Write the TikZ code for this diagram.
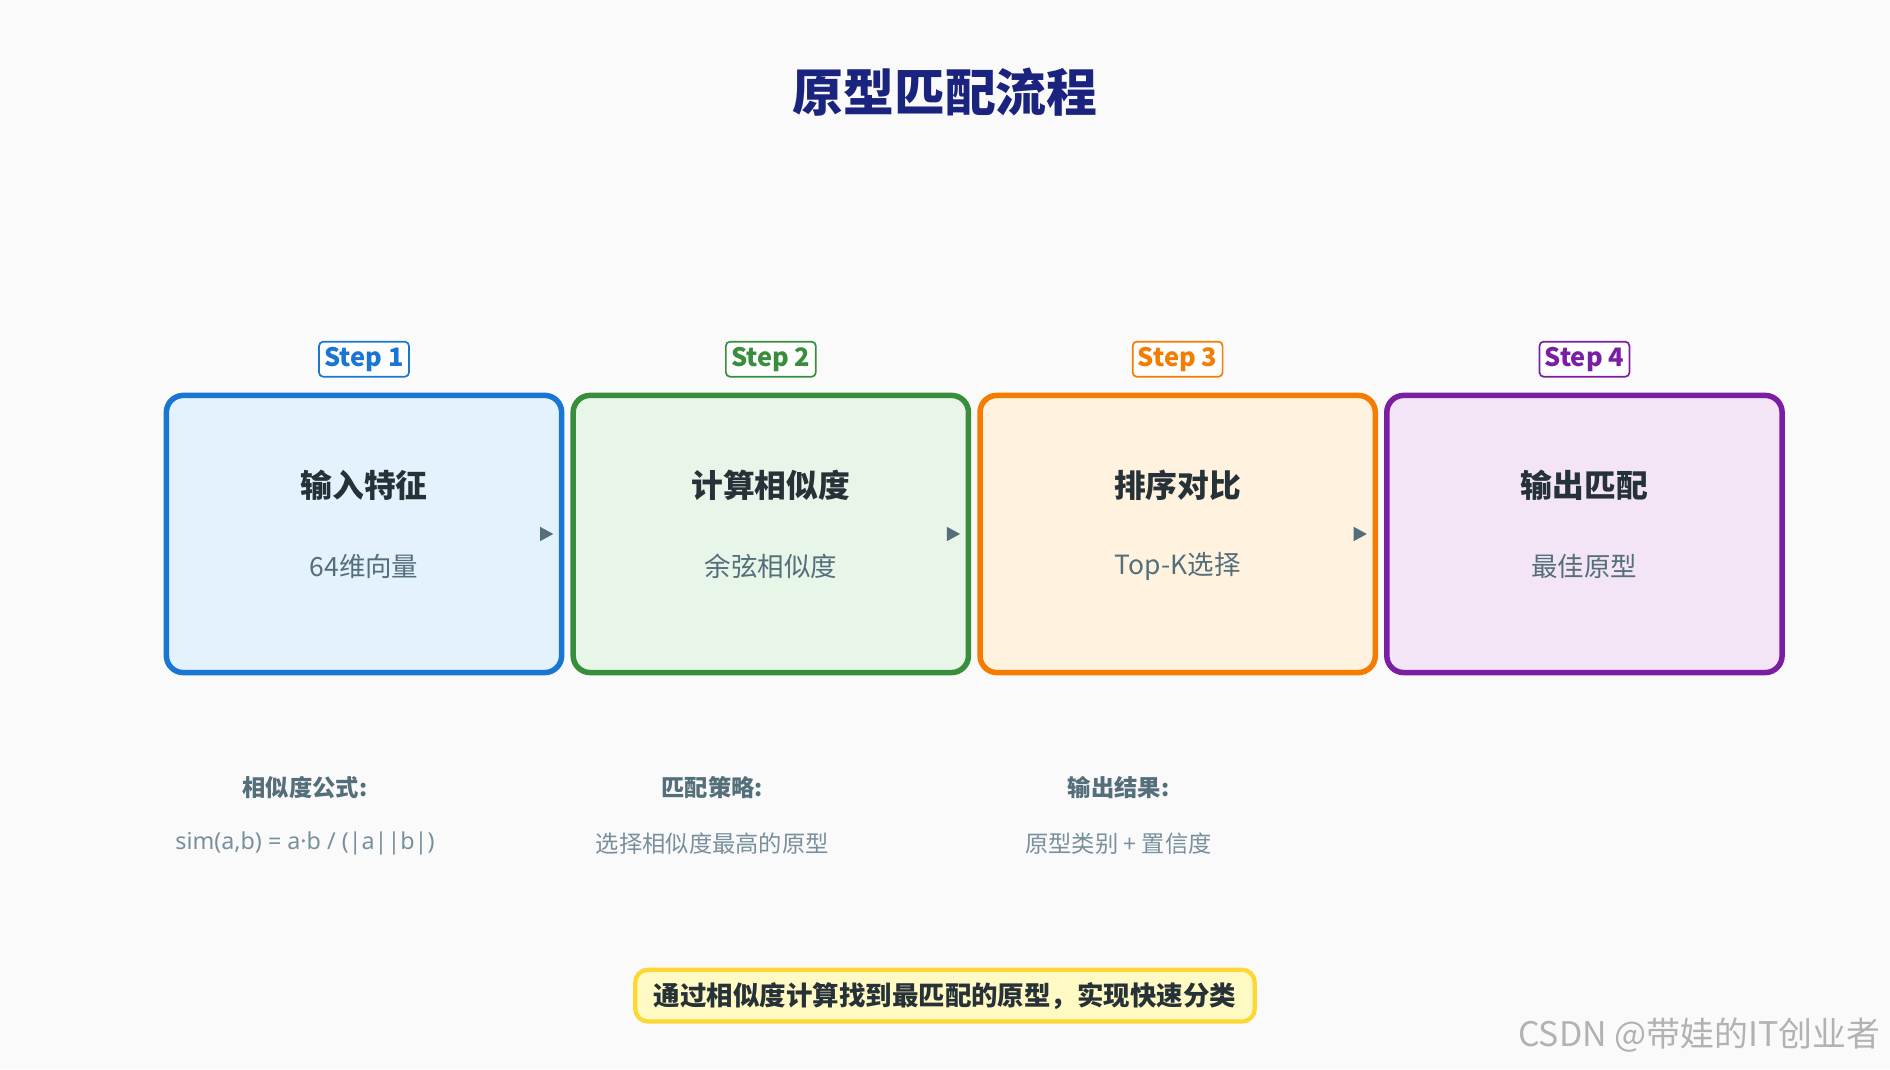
\documentclass[tikz,border=0pt]{standalone}
\usepackage{fontspec}
\setmainfont{Noto Sans CJK SC}
\newfontfamily\latinfont{Noto Sans}
\usetikzlibrary{positioning}
\definecolor{bgc}{HTML}{FAFAFA}
\definecolor{titlec}{HTML}{1A237E}
\definecolor{bluec}{HTML}{1976D2}\definecolor{bluef}{HTML}{E3F2FD}
\definecolor{greenc}{HTML}{388E3C}\definecolor{greenf}{HTML}{E8F5E9}
\definecolor{orangec}{HTML}{F57C00}\definecolor{orangef}{HTML}{FFF3E0}
\definecolor{purplec}{HTML}{7B1FA2}\definecolor{purplef}{HTML}{F3E5F5}
\definecolor{darkc}{HTML}{263238}
\definecolor{subc}{HTML}{546E7A}
\definecolor{notec}{HTML}{78909C}
\definecolor{yelf}{HTML}{FFF9C4}\definecolor{yelc}{HTML}{FDD835}
\tikzset{
  stepbox/.style={draw=#1, line width=2.6pt, rounded corners=8pt,
    minimum width=6.56cm, minimum height=4.6cm, inner sep=0pt},
  steptag/.style={draw=#1, text=#1, fill=white, line width=0.8pt, rounded corners=2pt,
    font=\fontsize{12}{14}\selectfont\bfseries, inner sep=2.5pt},
  boxtitle/.style={font=\fontsize{15}{18}\selectfont\bfseries, text=darkc},
  boxsub/.style={font=\fontsize{12.5}{15}\selectfont, text=subc},
  notehead/.style={font=\fontsize{11}{13}\selectfont\bfseries, text=subc},
  notetext/.style={font=\fontsize{11}{13}\selectfont, text=notec},
  tip/.style={fill=subc, draw=none}
}
\begin{document}
\begin{tikzpicture}[x=0.02cm, y=-0.02cm]
\fill[bgc] (0,0) rectangle (1568,887);
\node[font=\fontsize{24}{28}\selectfont\bfseries, text=titlec] (title) at (784,76) {原型匹配流程};
% step boxes
\node[stepbox=bluec, fill=bluef] (b1) at (302,443) {};
\node[stepbox=greenc, fill=greenf] (b2) at (639.5,443) {};
\node[stepbox=orangec, fill=orangef] (b3) at (977,443) {};
\node[stepbox=purplec, fill=purplef] (b4) at (1314.5,443) {};
\node[steptag=bluec] (s1) at (302,298) {Step 1};
\node[steptag=greenc] (s2) at (639.5,298) {Step 2};
\node[steptag=orangec] (s3) at (977,298) {Step 3};
\node[steptag=purplec] (s4) at (1314.5,298) {Step 4};
\node[boxtitle] (t1) at (302,403) {输入特征};
\node[boxtitle] (t2) at (639.5,403) {计算相似度};
\node[boxtitle] (t3) at (977,403) {排序对比};
\node[boxtitle] (t4) at (1314.5,403) {输出匹配};
\node[boxsub] (u1) at (302,470) {64维向量};
\node[boxsub] (u2) at (639.5,470) {余弦相似度};
\node[boxsub] (u3) at (977,470) {Top-K选择};
\node[boxsub] (u4) at (1314.5,470) {最佳原型};
% small arrow tips
\foreach \x in {453,790.5,1128}
  \fill[tip] (\x-5,437) -- (\x+6,443) -- (\x-5,449) -- cycle;
% notes
\node[notehead] (h1) at (253,653) {相似度公式:};
\node[notehead] (h2) at (591,653) {匹配策略:};
\node[notehead] (h3) at (928,653) {输出结果:};
\node[notetext] (n1) at (253,700) {\latinfont sim(a,b) = a·b / (|a||b|)};
\node[notetext] (n2) at (591,700) {选择相似度最高的原型};
\node[notetext] (n3) at (928,700) {原型类别 + 置信度};
% summary
\node[draw=yelc, fill=yelf, line width=2pt, rounded corners=6pt,
  minimum width=10.28cm, minimum height=0.86cm, text=darkc,
  font=\fontsize{12.5}{15}\selectfont\bfseries] (sum) at (784,826) {通过相似度计算找到最匹配的原型，实现快速分类};
\node[text=black!30, font=\fontsize{16}{19}\selectfont, anchor=east] (wm) at (1566,859) {CSDN @带娃的IT创业者};
\end{tikzpicture}
\end{document}
